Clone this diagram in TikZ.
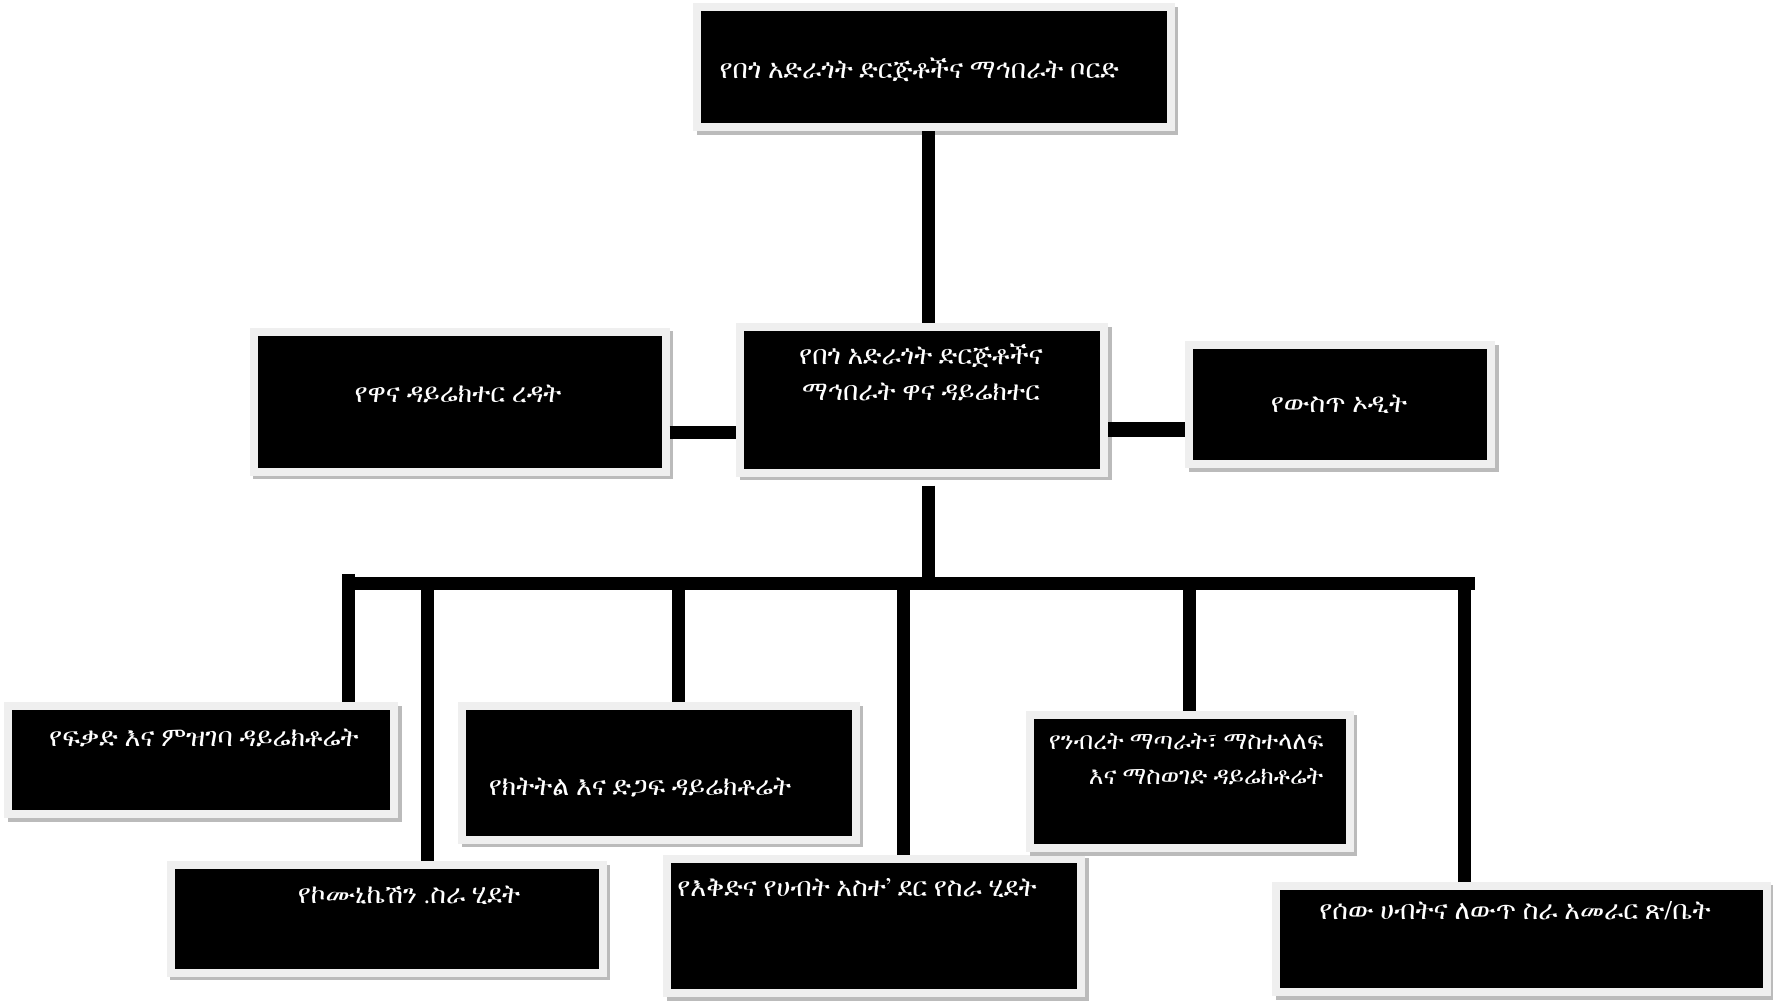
\documentclass[tikz,border=0pt]{standalone}
\usepackage{fontspec}
\IfFontExistsTF{FreeSerif}{\setmainfont{FreeSerif}}{%
  \IfFontExistsTF{Abyssinica SIL}{\setmainfont{Abyssinica SIL}}{%
    \IfFontExistsTF{FreeSans}{\setmainfont{FreeSans}}{\setmainfont{DejaVu Sans}}}}
\usepackage{tikz}
\usetikzlibrary{shadows}
\definecolor{framegray}{HTML}{EFEFEF}
\definecolor{shadegray}{HTML}{BBBBBB}

\begin{document}
\begin{tikzpicture}[x=0.1mm,y=-0.1mm,
	box/.style={draw=framegray, line width=0.8mm, fill=black, inner sep=0pt,
		drop shadow={shadow xshift=0.35mm, shadow yshift=-0.35mm, fill=shadegray, draw=shadegray, line width=0.8mm, opacity=1}},
	boxtext/.style={text=white, inner sep=0pt, font=\fontsize{7.6}{10.2}\selectfont},
	link/.style={line width=1.3mm}]
		\useasboundingbox (0,0) rectangle (1773,1005);
		
		\node[box, minimum width=47.35mm, minimum height=12mm] (board) at (934,67.5) {};
		\node[box, minimum width=36.4mm, minimum height=14.55mm] (director) at (922,400) {};
		\node[box, minimum width=41.2mm, minimum height=14mm] (aide) at (459.5,402) {};
		\node[box, minimum width=30.2mm, minimum height=11.9mm] (audit) at (1340,405) {};
		\node[box, minimum width=38.6mm, minimum height=10.8mm] (lic) at (201,760.5) {};
		\node[box, minimum width=43.2mm, minimum height=10.75mm] (comm) at (386.5,919) {};
		\node[box, minimum width=39.35mm, minimum height=13.35mm] (mon) at (659,773) {};
		\node[box, minimum width=41.4mm, minimum height=13.45mm] (plan) at (874,926) {};
		\node[box, minimum width=31.95mm, minimum height=13.3mm] (prop) at (1190,782) {};
		\node[box, minimum width=49.1mm, minimum height=10.65mm] (hr) at (1521.5,939) {};
		
		\node[boxtext, anchor=west] (boardtxt) at (719,70) {የበጎ አድራጎት ድርጅቶችና ማኅበራት ቦርድ};
		\node[boxtext, align=center] (directortxt) at (921,372) {የበጎ አድራጎት ድርጅቶችና\\ማኅበራት ዋና ዳይሬክተር};
		\node[boxtext] (aidetxt) at (458,394) {የዋና ዳይሬክተር ረዳት};
		\node[boxtext] (audittxt) at (1339,404) {የውስጥ ኦዲት};
		\node[boxtext] (lictxt) at (204,738) {የፍቃድ እና ምዝገባ ዳይሬክቶሬት};
		\node[boxtext] (commtxt) at (409,895) {የኮሙኒኬሽን .ስራ ሂደት};
		\node[boxtext] (montxt) at (640,788) {የክትትል እና ድጋፍ ዳይሬክቶሬት};
		\node[boxtext] (plantxt) at (857,888) {የእቅድና የሀብት አስተ' ደር የስራ ሂደት};
		\node[boxtext, align=right, anchor=east, font=\fontsize{7}{9.8}\selectfont] (proptxt) at (1324,759) {የንብረት ማጣራት፣ ማስተላለፍ\\እና ማስወገድ ዳይሬክቶሬት};
		\node[boxtext] (hrtxt) at (1515,911) {የሰው ሀብትና ለውጥ ስራ አመራር ጽ/ቤት};
		
		\draw[link] ([xshift=-0.6mm]board.south) -- ([xshift=-0.6mm]board.south |- director.north);
		\draw[link] ([yshift=-3.1mm]aide.east) -- ([yshift=-3.1mm]aide.east -| director.west);
		\draw[link, line width=1.5mm] ([yshift=-3mm]director.east) -- ([yshift=-3mm]director.east -| audit.west);
		
		\coordinate (barL) at (342,584);
		\coordinate (barR) at (1475,584);
		\draw[link] ([xshift=0.6mm,yshift=-0.9mm]director.south) -- ([xshift=0.6mm]director.south |- barL);
		\draw[link] (barL) -- (barR);
		\coordinate (tlic) at (348,574);
		\draw[link] (tlic) -- (tlic |- lic.north);
		\foreach \x/\n in {427/comm, 678/mon, 903/plan, 1189/prop, 1464/hr}{
			\coordinate (t\n) at (\x,584);
			\draw[link] (t\n) -- (t\n |- \n.north);
		}
		\end{tikzpicture}
\end{document}
